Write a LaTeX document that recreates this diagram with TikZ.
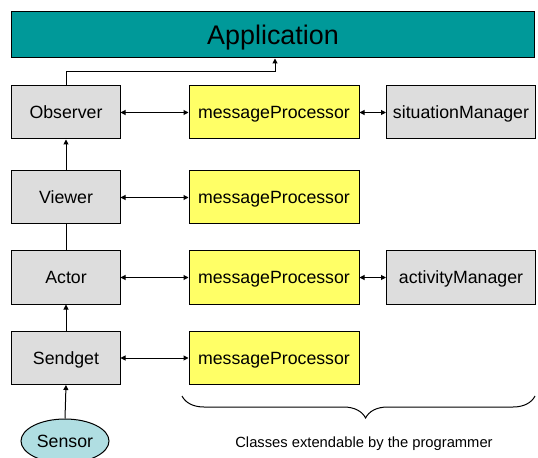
\documentclass[tikz,border=0pt]{standalone}
\usepackage{fontspec}
\setmainfont{Liberation Sans}
\usepackage{xcolor}
\usetikzlibrary{arrows.meta,shapes.geometric,decorations.pathreplacing}
\definecolor{appteal}{RGB}{0,153,153}
\definecolor{procyellow}{RGB}{255,255,102}
\definecolor{clsgray}{RGB}{221,221,221}
\definecolor{sensblue}{RGB}{176,222,226}
\tikzset{
  boxtext/.style={inner sep=0pt,text height=12.7bp,text depth=0pt,font=\fontsize{17.8}{20}\selectfont},
  cls/.style={draw,fill=clsgray,minimum width=108bp,minimum height=53bp,boxtext},
  proc/.style={draw,fill=procyellow,minimum width=170bp,minimum height=53bp,boxtext},
  mgr/.style={draw,fill=clsgray,minimum width=149bp,minimum height=53bp,boxtext},
  link/.style={line width=1bp,-{Triangle[length=5bp,width=5bp]}},
  both/.style={line width=1bp,{Triangle[length=5bp,width=5bp]}-{Triangle[length=5bp,width=5bp]}}
}
\begin{document}
\begin{tikzpicture}[x=1bp,y=-1bp,line width=1bp]
	\useasboundingbox (0,0) rectangle (538,458) ;
	\node[draw,fill=appteal,minimum width=522bp,minimum height=46bp,inner sep=0pt,text height=19.3bp,text depth=0pt,font=\fontsize{27}{30}\selectfont] (app) at (273,35) {Application} ;
	\node[cls] (obs) at (66,112.5) {Observer} ;
	\node[cls] (view) at (66,197.5) {Viewer} ;
	\node[cls] (act) at (66,277.5) {Actor} ;
	\node[cls] (send) at (66,358) {Sendget} ;
	\node[draw,ellipse,fill=sensblue,minimum width=88bp,minimum height=44bp,boxtext] (sens) at (65,441) {Sensor} ;
	\node[proc] (mpA) at (274,112.5) {messageProcessor} ;
	\node[proc] (mpB) at (274,197.5) {messageProcessor} ;
	\node[proc] (mpC) at (274,277.5) {messageProcessor} ;
	\node[proc] (mpD) at (274,358) {messageProcessor} ;
	\node[mgr] (sitMgr) at (461,112.5) {situationManager} ;
	\node[mgr] (actMgr) at (461,277.5) {activityManager} ;
	\coordinate (bend) at (275,72) ;
	\draw[link] (obs.north) |- (bend) -- (app.south -| bend) ;
	\draw[link] (view.north) -- (obs.south) ;
	\draw (act.north) -- (view.south) ;
	\draw[link] (send.north) -- (act.south) ;
	\draw[link] (sens.north) -- (send.south) ;
	\draw[both] (obs.east) -- (mpA.west) ;
	\draw[both] (view.east) -- (mpB.west) ;
	\draw[both] (act.east) -- (mpC.west) ;
	\draw[both] (send.east) -- (mpD.west) ;
	\draw[both] (mpA.east) -- (sitMgr.west) ;
	\draw[both] (mpC.east) -- (actMgr.west) ;
	\coordinate (braceL) at (182,396) ;
	\coordinate (braceR) at (535,396) ;
	\draw[decorate,decoration={brace,mirror,amplitude=22bp,aspect=0.52}] (braceL) -- (braceR) ;
	\node[font=\fontsize{14.8}{17}\selectfont] (note) at (364,444) {Classes extendable by the programmer} ;
\end{tikzpicture}
\end{document}
